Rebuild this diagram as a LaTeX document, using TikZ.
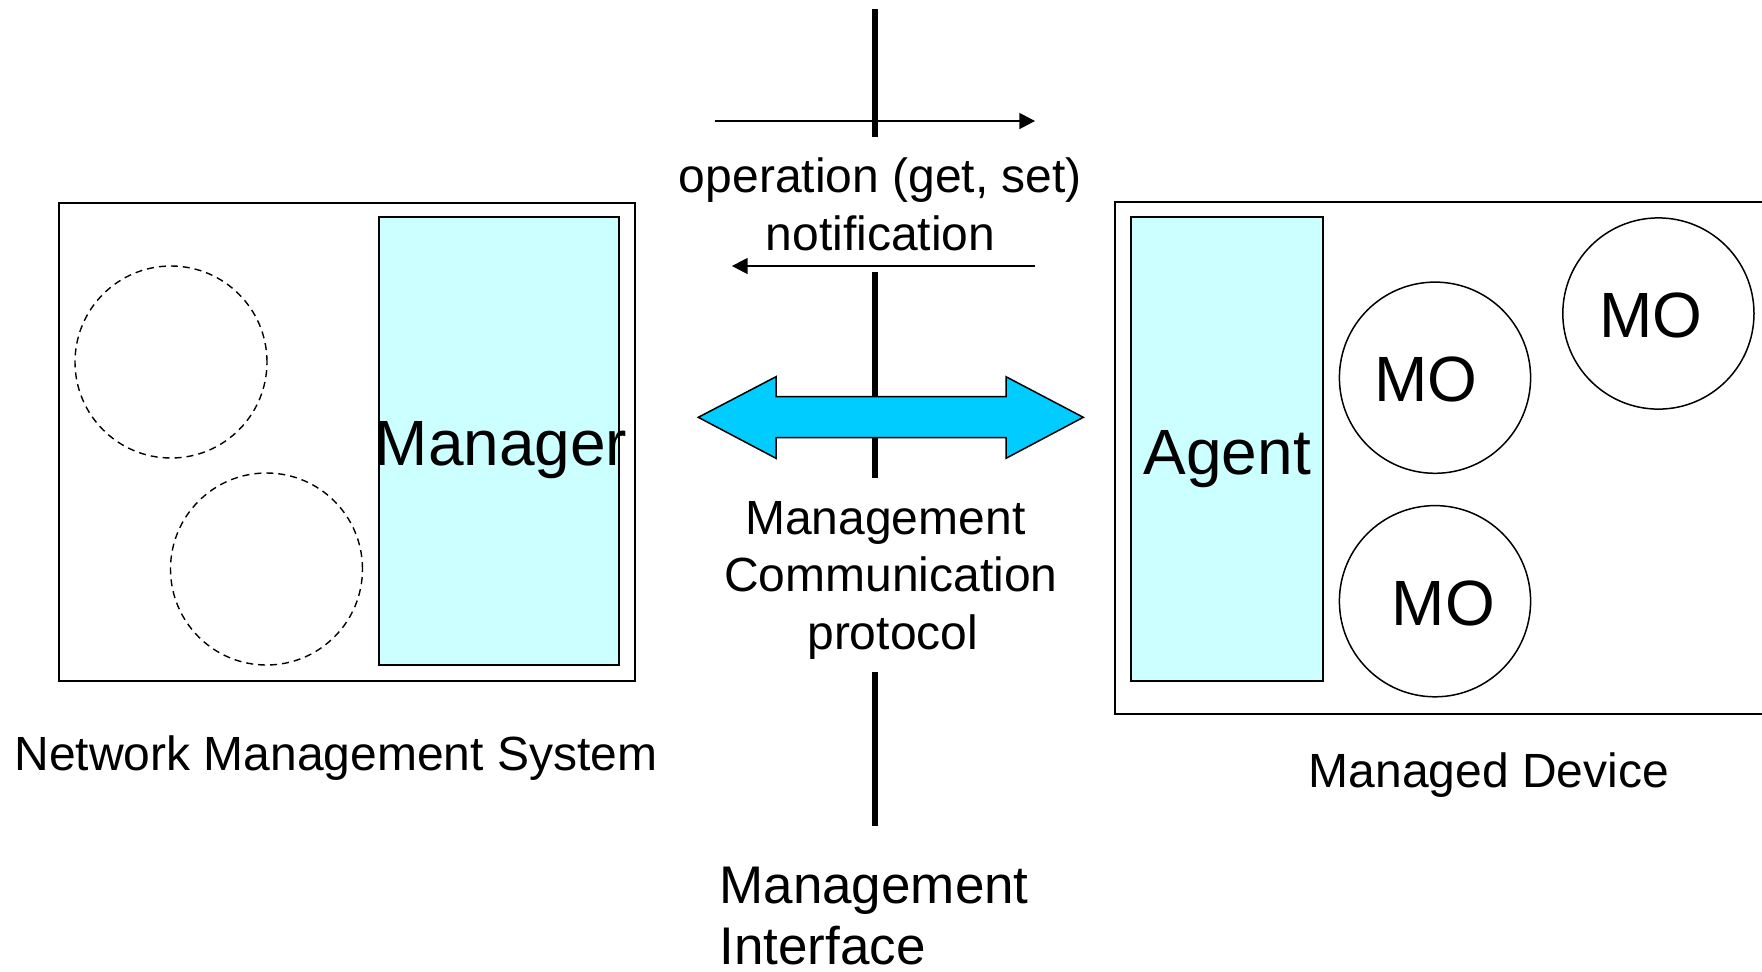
\documentclass[tikz,border=0pt]{standalone}
\usepackage{fontspec}
\setmainfont{Liberation Sans}
\usetikzlibrary{arrows.meta}
\definecolor{boxcyan}{HTML}{CCFFFF}
\definecolor{arrowcyan}{HTML}{00CCFF}
\begin{document}
\begin{tikzpicture}[x=0.5pt,y=-0.5pt,
  smalltext/.style={inner sep=0pt, anchor=base, font=\fontsize{24pt}{28pt}\selectfont},
  bigtext/.style={inner sep=0pt, anchor=base, font=\fontsize{32pt}{36pt}\selectfont},
  iftext/.style={inner sep=0pt, anchor=base west, font=\fontsize{26.5pt}{31pt}\selectfont},
  framebox/.style={draw=black, line width=1pt, rectangle, inner sep=0pt},
  rolebox/.style={draw=black, line width=1pt, fill=boxcyan, rectangle, inner sep=0pt},
  ghostcircle/.style={draw=black, line width=0.7pt, dash pattern=on 3.5pt off 2.5pt, circle, inner sep=0pt, minimum size=96pt},
  mocircle/.style={draw=black, line width=0.75pt, circle, inner sep=0pt, minimum size=95.6pt},
  ifline/.style={draw=black, line width=2.75pt},
  msgarrow/.style={draw=black, line width=0.75pt, -{Triangle[length=7.8pt,width=8pt]}},
  bigarrow/.style={draw=black, line width=0.75pt, fill=arrowcyan, line join=miter}
]
\useasboundingbox (0,0) rectangle (1762,971);

% management interface line
\coordinate (v1t) at (875,9);
\coordinate (v1b) at (875,136.5);
\coordinate (v2t) at (875,272);
\coordinate (v2b) at (875,478);
\coordinate (v3t) at (875,672);
\coordinate (v3b) at (875,826);
\draw[ifline] (v1t) -- (v1b);
\draw[ifline] (v2t) -- (v2b);
\draw[ifline] (v3t) -- (v3b);

% operation / notification arrows
\coordinate (opS) at (715,121);
\coordinate (opE) at (1035,121);
\coordinate (ntS) at (1035,266);
\coordinate (ntE) at (732,266);
\draw[msgarrow] (opS) -- (opE);
\draw[msgarrow] (ntS) -- (ntE);
\node[smalltext] (op1) at (880.4,192.3) {operation (get, set)};
\node[smalltext] (op2) at (880.4,250) {notification};

% Network Management System
\node[framebox, minimum width=288.25pt, minimum height=239.25pt] (nms) at (346.75,441.75) {};
\node[rolebox, minimum width=119.6pt, minimum height=224.1pt] (mgr) at (498.9,441.1) {};
\node[bigtext] (mgrlabel) at (501,465) {Manager};
\node[ghostcircle] (gc1) at (171,362) {};
\node[ghostcircle] (gc2) at (266.5,569) {};
\node[smalltext, anchor=base west] (nmslabel) at (14,770) {Network Management System};

% Managed Device
\node[framebox, minimum width=342.65pt, minimum height=255.6pt] (dev) at (1457.35,457.9) {};
\node[rolebox, minimum width=96.2pt, minimum height=232pt] (agent) at (1226.8,449) {};
\node[bigtext] (agentlabel) at (1227.2,474) {Agent};
\node[mocircle] (mo1c) at (1435,377.7) {};
\node[mocircle] (mo2c) at (1658.4,313.5) {};
\node[mocircle] (mo3c) at (1435,601.2) {};
\node[bigtext] (mo1) at (1425.8,401.7) {MO};
\node[bigtext] (mo2) at (1651,337.3) {MO};
\node[bigtext] (mo3) at (1443.3,625.7) {MO};
\node[smalltext] (devlabel) at (1489,787.7) {Managed Device};

% management communication protocol double arrow
\draw[bigarrow] (698.3,417.3) -- (776,376.7) -- (776,396.7) -- (1006,396.7) -- (1006,376.7)
  -- (1083.3,417.3) -- (1006,458.3) -- (1006,437.7) -- (776,437.7) -- (776,458.3) -- cycle;
\node[smalltext] (mcp1) at (885.3,534) {Management};
\node[smalltext] (mcp2) at (890.8,591.7) {Communication};
\node[smalltext] (mcp3) at (892.7,649) {protocol};

% management interface label
\node[iftext] (mi1) at (719,903.3) {Management};
\node[iftext] (mi2) at (719,964.5) {Interface};
\end{tikzpicture}
\end{document}
